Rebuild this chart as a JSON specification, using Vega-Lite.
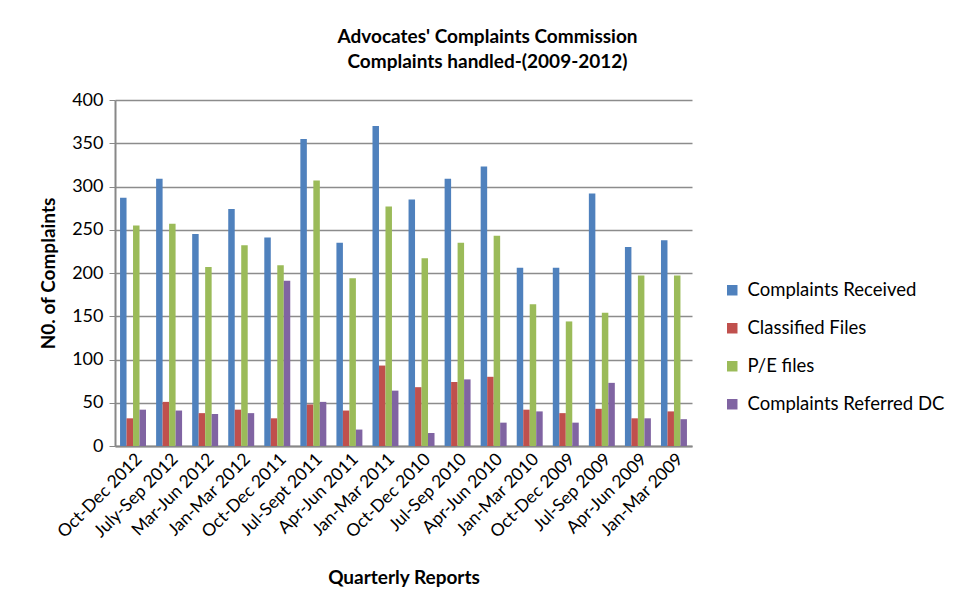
{
  "$schema": "https://vega.github.io/schema/vega-lite/v6.json",
  "width": 577,
  "height": 346,
  "autosize": {"type": "none"},
  "padding": {"left": 115, "top": 100, "right": 265, "bottom": 165},
  "background": "white",
  "config": {
    "font": "Lato",
    "view": {"stroke": null}
  },
  "title": {
    "text": ["Advocates' Complaints Commission", "Complaints handled-(2009-2012)"],
    "fontSize": 19,
    "fontWeight": "bold",
    "font": "Lato",
    "color": "#000000",
    "lineHeight": 25,
    "anchor": "middle",
    "dx": 84,
    "offset": 19
  },
  "data": {
    "values": [
      {"quarter": "Oct-Dec 2012", "series": "Complaints Received", "value": 287},
      {"quarter": "Oct-Dec 2012", "series": "Classified Files", "value": 32},
      {"quarter": "Oct-Dec 2012", "series": "P/E files", "value": 255},
      {"quarter": "Oct-Dec 2012", "series": "Complaints Referred DC", "value": 42},
      {"quarter": "July-Sep 2012", "series": "Complaints Received", "value": 309},
      {"quarter": "July-Sep 2012", "series": "Classified Files", "value": 51},
      {"quarter": "July-Sep 2012", "series": "P/E files", "value": 257},
      {"quarter": "July-Sep 2012", "series": "Complaints Referred DC", "value": 41},
      {"quarter": "Mar-Jun 2012", "series": "Complaints Received", "value": 245},
      {"quarter": "Mar-Jun 2012", "series": "Classified Files", "value": 38},
      {"quarter": "Mar-Jun 2012", "series": "P/E files", "value": 207},
      {"quarter": "Mar-Jun 2012", "series": "Complaints Referred DC", "value": 37},
      {"quarter": "Jan-Mar 2012", "series": "Complaints Received", "value": 274},
      {"quarter": "Jan-Mar 2012", "series": "Classified Files", "value": 42},
      {"quarter": "Jan-Mar 2012", "series": "P/E files", "value": 232},
      {"quarter": "Jan-Mar 2012", "series": "Complaints Referred DC", "value": 38},
      {"quarter": "Oct-Dec 2011", "series": "Complaints Received", "value": 241},
      {"quarter": "Oct-Dec 2011", "series": "Classified Files", "value": 32},
      {"quarter": "Oct-Dec 2011", "series": "P/E files", "value": 209},
      {"quarter": "Oct-Dec 2011", "series": "Complaints Referred DC", "value": 191},
      {"quarter": "Jul-Sept 2011", "series": "Complaints Received", "value": 355},
      {"quarter": "Jul-Sept 2011", "series": "Classified Files", "value": 48},
      {"quarter": "Jul-Sept 2011", "series": "P/E files", "value": 307},
      {"quarter": "Jul-Sept 2011", "series": "Complaints Referred DC", "value": 51},
      {"quarter": "Apr-Jun 2011", "series": "Complaints Received", "value": 235},
      {"quarter": "Apr-Jun 2011", "series": "Classified Files", "value": 41},
      {"quarter": "Apr-Jun 2011", "series": "P/E files", "value": 194},
      {"quarter": "Apr-Jun 2011", "series": "Complaints Referred DC", "value": 19},
      {"quarter": "Jan-Mar 2011", "series": "Complaints Received", "value": 370},
      {"quarter": "Jan-Mar 2011", "series": "Classified Files", "value": 93},
      {"quarter": "Jan-Mar 2011", "series": "P/E files", "value": 277},
      {"quarter": "Jan-Mar 2011", "series": "Complaints Referred DC", "value": 64},
      {"quarter": "Oct-Dec 2010", "series": "Complaints Received", "value": 285},
      {"quarter": "Oct-Dec 2010", "series": "Classified Files", "value": 68},
      {"quarter": "Oct-Dec 2010", "series": "P/E files", "value": 217},
      {"quarter": "Oct-Dec 2010", "series": "Complaints Referred DC", "value": 15},
      {"quarter": "Jul-Sep 2010", "series": "Complaints Received", "value": 309},
      {"quarter": "Jul-Sep 2010", "series": "Classified Files", "value": 74},
      {"quarter": "Jul-Sep 2010", "series": "P/E files", "value": 235},
      {"quarter": "Jul-Sep 2010", "series": "Complaints Referred DC", "value": 77},
      {"quarter": "Apr-Jun 2010", "series": "Complaints Received", "value": 323},
      {"quarter": "Apr-Jun 2010", "series": "Classified Files", "value": 80},
      {"quarter": "Apr-Jun 2010", "series": "P/E files", "value": 243},
      {"quarter": "Apr-Jun 2010", "series": "Complaints Referred DC", "value": 27},
      {"quarter": "Jan-Mar 2010", "series": "Complaints Received", "value": 206},
      {"quarter": "Jan-Mar 2010", "series": "Classified Files", "value": 42},
      {"quarter": "Jan-Mar 2010", "series": "P/E files", "value": 164},
      {"quarter": "Jan-Mar 2010", "series": "Complaints Referred DC", "value": 40},
      {"quarter": "Oct-Dec 2009", "series": "Complaints Received", "value": 206},
      {"quarter": "Oct-Dec 2009", "series": "Classified Files", "value": 38},
      {"quarter": "Oct-Dec 2009", "series": "P/E files", "value": 144},
      {"quarter": "Oct-Dec 2009", "series": "Complaints Referred DC", "value": 27},
      {"quarter": "Jul-Sep 2009", "series": "Complaints Received", "value": 292},
      {"quarter": "Jul-Sep 2009", "series": "Classified Files", "value": 43},
      {"quarter": "Jul-Sep 2009", "series": "P/E files", "value": 154},
      {"quarter": "Jul-Sep 2009", "series": "Complaints Referred DC", "value": 73},
      {"quarter": "Apr-Jun 2009", "series": "Complaints Received", "value": 230},
      {"quarter": "Apr-Jun 2009", "series": "Classified Files", "value": 32},
      {"quarter": "Apr-Jun 2009", "series": "P/E files", "value": 197},
      {"quarter": "Apr-Jun 2009", "series": "Complaints Referred DC", "value": 32},
      {"quarter": "Jan-Mar 2009", "series": "Complaints Received", "value": 238},
      {"quarter": "Jan-Mar 2009", "series": "Classified Files", "value": 40},
      {"quarter": "Jan-Mar 2009", "series": "P/E files", "value": 197},
      {"quarter": "Jan-Mar 2009", "series": "Complaints Referred DC", "value": 31}
    ]
  },
  "mark": {"type": "bar"},
  "encoding": {
    "x": {
      "field": "quarter",
      "type": "nominal",
      "sort": null,
      "scale": {"paddingInner": 0.28, "paddingOuter": 0.14},
      "axis": {
        "title": "Quarterly Reports",
        "titleFontSize": 19,
        "titleFontWeight": "bold",
        "titleColor": "#000000",
        "titlePadding": 28,
        "labelAngle": -45,
        "labelFontSize": 17.5,
        "labelColor": "#000000",
        "labelPadding": 4,
        "domainColor": "#888888",
        "domainWidth": 2,
        "ticks": false
      }
    },
    "xOffset": {
      "field": "series",
      "type": "nominal",
      "sort": ["Complaints Received", "Classified Files", "P/E files", "Complaints Referred DC"]
    },
    "y": {
      "field": "value",
      "type": "quantitative",
      "scale": {"domain": [0, 400], "nice": false},
      "axis": {
        "title": "N0. of  Complaints",
        "titleFontSize": 19,
        "titleFontWeight": "bold",
        "titleColor": "#000000",
        "titlePadding": 13,
        "values": [0, 50, 100, 150, 200, 250, 300, 350, 400],
        "labelFontSize": 18,
        "labelColor": "#000000",
        "labelPadding": 6,
        "grid": true,
        "gridColor": "#8c8c8c",
        "gridWidth": 1.5,
        "domainColor": "#888888",
        "domainWidth": 2,
        "tickColor": "#888888",
        "tickSize": 6
      }
    },
    "color": {
      "field": "series",
      "type": "nominal",
      "sort": ["Complaints Received", "Classified Files", "P/E files", "Complaints Referred DC"],
      "scale": {
        "domain": ["Complaints Received", "Classified Files", "P/E files", "Complaints Referred DC"],
        "range": ["#4F81BD", "#C0504D", "#9BBB59", "#8064A2"]
      },
      "legend": {
        "title": null,
        "orient": "none",
        "legendX": 608,
        "legendY": 181,
        "labelFontSize": 18.5,
        "labelLimit": 300,
        "labelColor": "#000000",
        "symbolType": "square",
        "symbolSize": 110,
        "symbolStrokeWidth": 0,
        "rowPadding": 19,
        "labelOffset": 6
      }
    }
  }
}
